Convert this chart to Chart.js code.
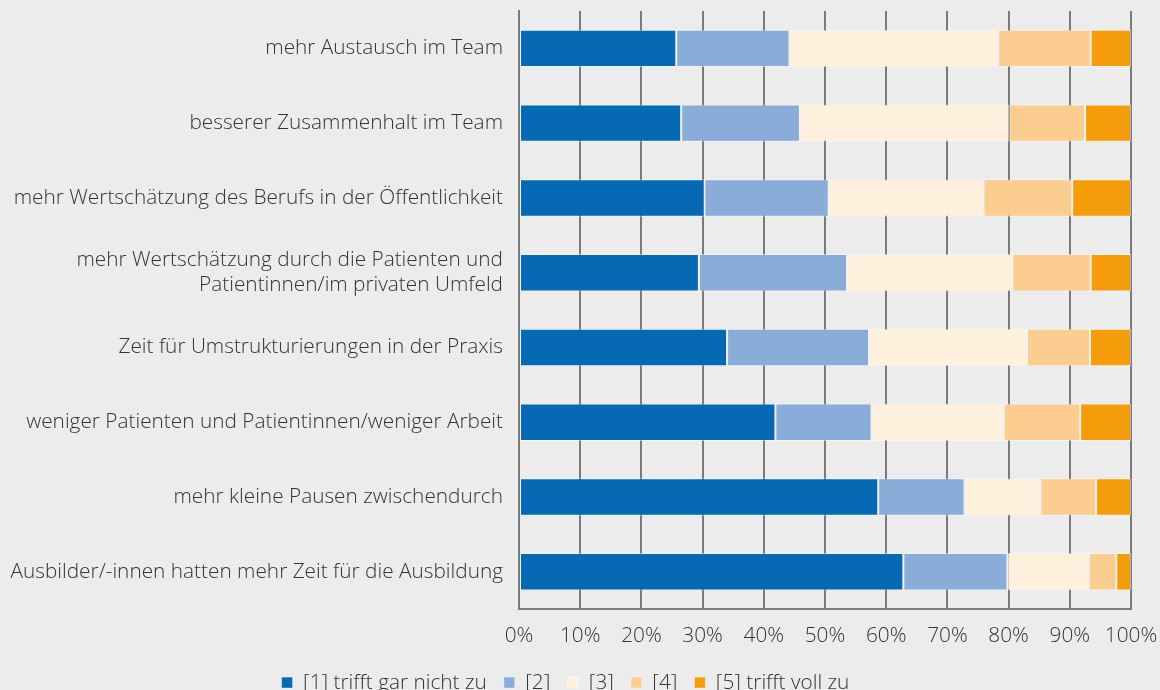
<!DOCTYPE html>
<html>
<head>
<meta charset="utf-8">
<script src="https://cdn.jsdelivr.net/npm/chart.js@4"></script>
<style>
  html, body { margin: 0; padding: 0; background: #ececec; }
  #wrap { width: 1160px; height: 690px; }
</style>
</head>
<body>
<div id="wrap"><canvas id="chart"></canvas></div>
<script>
const categories = [
  'mehr Austausch im Team',
  'besserer Zusammenhalt im Team',
  'mehr Wertschätzung des Berufs in der Öffentlichkeit',
  ['mehr Wertschätzung durch die Patienten und', 'Patientinnen/im privaten Umfeld'],
  'Zeit für Umstrukturierungen in der Praxis',
  'weniger Patienten und Patientinnen/weniger Arbeit',
  'mehr kleine Pausen zwischendurch',
  'Ausbilder/-innen hatten mehr Zeit für die Ausbildung'
];

const seriesNames = ['[1] trifft gar nicht zu', '[2]', '[3]', '[4]', '[5] trifft voll zu'];
const seriesColors = ['#0569b3', '#8aacd9', '#fef0dd', '#fbcd91', '#f59c0a'];

const s1 = [25.7, 26.5, 30.3, 29.4, 34.0, 41.9, 58.7, 62.8];
const s2 = [18.5, 19.4, 20.3, 24.2, 23.2, 15.7, 14.1, 17.0];
const s3 = [34.1, 34.2, 25.3, 27.0, 25.8, 21.6, 12.4, 13.3];
const s4 = [15.1, 12.4, 14.5, 12.8, 10.3, 12.5, 9.1, 4.5];
const s5 = [6.6, 7.5, 9.6, 6.6, 6.7, 8.3, 5.7, 2.4];

const xTicks = [0, 10, 20, 30, 40, 50, 60, 70, 80, 90, 100];

const allSeries = [s1, s2, s3, s4, s5];
const fontFamily = '"Open Sans", "Noto Sans", sans-serif';
const fontSize = 20.8;
const textColor = '#333333';
const gridColor = '#7a7a7a';

// legend sits tight under the tick labels: trim its reserved height, nudge it down
const legendTrim = {
  id: 'legendTrim',
  beforeInit(chart) {
    const fit = chart.legend.fit;
    chart.legend.fit = function () {
      fit.call(this);
      this.height -= 7;
    };
  },
  afterLayout(chart) {
    chart.legend.top += 6;
  }
};

const ctx = document.getElementById('chart');

new Chart(ctx, {
  type: 'bar',
  data: {
    labels: categories,
    datasets: allSeries.map((values, i) => ({
      label: seriesNames[i],
      data: values,
      backgroundColor: seriesColors[i],
      borderColor: 'rgba(255,255,255,0.45)',
      borderWidth: 1,
      borderSkipped: false,
      barPercentage: 0.5,
      categoryPercentage: 1.0
    }))
  },
  options: {
    indexAxis: 'y',
    responsive: true,
    maintainAspectRatio: false,
    animation: false,
    layout: {
      padding: { top: 11, right: 29, left: 0, bottom: 0 }
    },
    scales: {
      x: {
        stacked: true,
        min: 0,
        max: 100,
        afterBuildTicks: scale => {
          scale.ticks = xTicks.map(v => ({ value: v }));
        },
        afterFit: scale => {
          scale.height = 40;
          scale.paddingLeft = 0;
          scale.paddingRight = 0;
        },
        ticks: {
          color: textColor,
          padding: 14,
          font: { family: fontFamily, size: fontSize, weight: 300 },
          callback: v => v + '%'
        },
        grid: {
          color: gridColor,
          lineWidth: 2,
          drawTicks: false
        },
        border: { color: gridColor, width: 2 }
      },
      y: {
        stacked: true,
        afterFit: scale => {
          scale.width = 519;
          scale.paddingTop = 0;
          scale.paddingBottom = 0;
        },
        ticks: {
          color: textColor,
          padding: 16,
          font: { family: fontFamily, size: fontSize, weight: 300 }
        },
        grid: { display: false, drawTicks: false },
        border: { color: gridColor, width: 2 }
      }
    },
    plugins: {
      legend: {
        position: 'bottom',
        labels: {
          color: textColor,
          boxWidth: 11,
          boxHeight: 11,
          padding: 17,
          font: { family: fontFamily, size: fontSize, weight: 300 }
        }
      },
      tooltip: { enabled: false }
    }
  },
  plugins: [legendTrim]
});
</script>
</body>
</html>
